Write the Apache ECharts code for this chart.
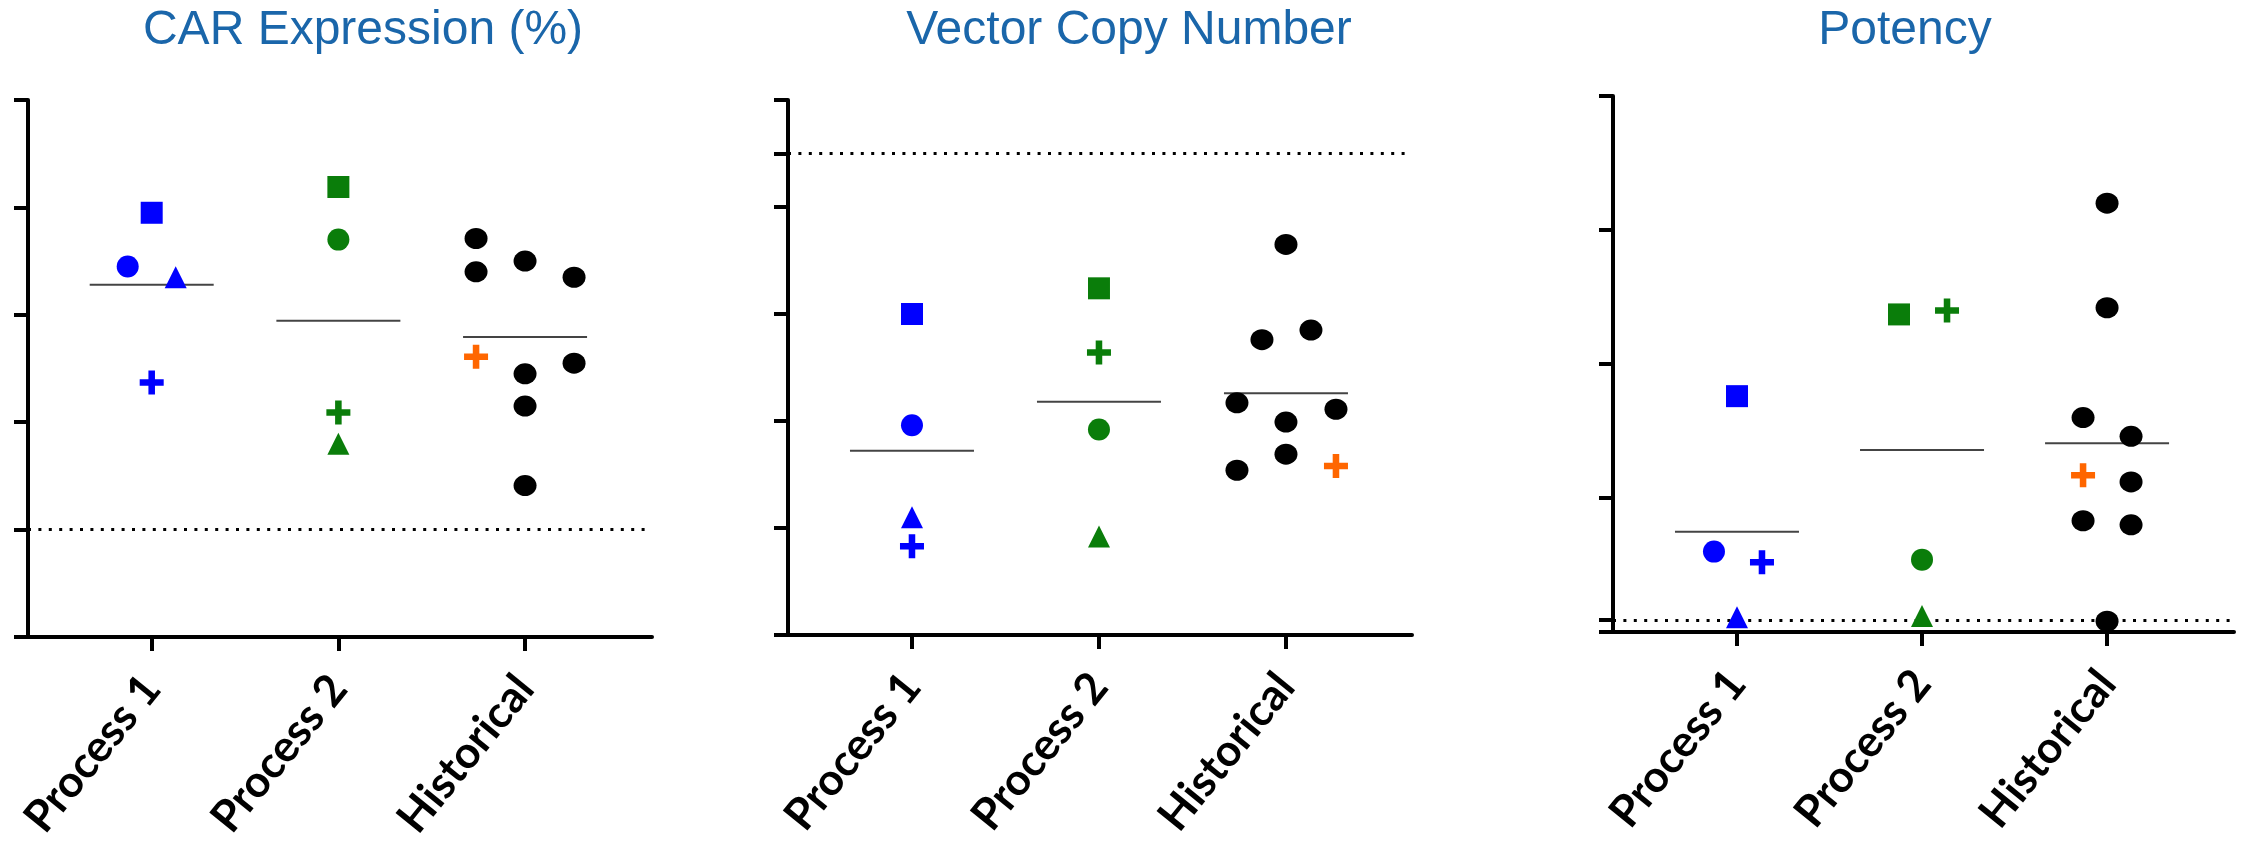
<!DOCTYPE html>
<html>
<head>
<meta charset="utf-8">
<script src="https://cdn.jsdelivr.net/npm/echarts@6/dist/echarts.min.js"></script>
<style>
  html, body { margin: 0; padding: 0; background: #fff; }
  #chart { width: 2244px; height: 850px; }
</style>
</head>
<body>
<div id="chart"></div>
<script>
// ---------------- DATA ----------------
const categories = ['Process 1', 'Process 2', 'Historical'];
const panelTitles = ['CAR Expression (%)', 'Vector Copy Number', 'Potency'];

// donor order for Process 1 / Process 2: square, circle, triangle, plus
const carProcess1 = [39.5, 34.5, 33.5, 23.7];
const carProcess2 = [41.9, 37.0, 18.0, 20.9];
const carHistorical = [37.1, 34.0, 35.0, 33.5, 25.5, 24.5, 21.5, 14.1];
const carHistoricalRef = [26.1];
const carTicks = [0, 10, 20, 30, 40, 50];
const carThreshold = 10;

const vcnProcess1 = [3.00, 1.96, 1.10, 0.83];
const vcnProcess2 = [3.24, 1.92, 0.92, 2.64];
const vcnHistorical = [3.65, 2.76, 2.85, 2.17, 2.11, 1.99, 1.69, 1.54];
const vcnHistoricalRef = [1.58];
const vcnTicks = [0, 1, 2, 3, 4, 4.5, 5];
const vcnThreshold = 4.5;

const potProcess1 = [1.76, 0.60, 0.11, 0.52];
const potProcess2 = [2.37, 0.54, 0.12, 2.40];
const potHistorical = [3.20, 2.42, 1.60, 1.46, 1.12, 0.83, 0.80, 0.08];
const potHistoricalRef = [1.17];
const potTicks = [0, 0.09, 1, 2, 3, 4];
const potThreshold = 0.09;

// ---------------- STYLE / LAYOUT ----------------
const PLUS = 'path://M8,0H14V8H22V14H14V22H8V14H0V8H8Z';
const donorSymbols = ['rect', 'circle', 'triangle', PLUS];
const donorSizes = [22, 22, 22, 24];
const colP1 = '#0000ff', colP2 = '#0a7d0a', colHist = '#000000', colRef = '#ff6600';
const titleColor = '#1a66aa';

const panels = [
  { title: panelTitles[0], p1: carProcess1, p2: carProcess2, hist: carHistorical, ref: carHistoricalRef,
    ticks: carTicks, thr: carThreshold,
    grid: { left: 28, top: 100, width: 624, height: 537 }, xr: [-0.6626, 2.680], titleX: 358,
    j1: [0, -24, 24, 0], j2: [0, 0, 0, 0], jh: [-49, -49, 0, 49, 49, 0, 0, 0], jr: [-49] },
  { title: panelTitles[1], p1: vcnProcess1, p2: vcnProcess2, hist: vcnHistorical, ref: vcnHistoricalRef,
    ticks: vcnTicks, thr: vcnThreshold,
    grid: { left: 788, top: 100, width: 624, height: 535 }, xr: [-0.663, 2.674], titleX: 1124,
    j1: [0, 0, 0, 0], j2: [0, 0, 0, 0], jh: [0, -24, 25, -49, 50, 0, 0, -49], jr: [50] },
  { title: panelTitles[2], p1: potProcess1, p2: potProcess2, hist: potHistorical, ref: potHistoricalRef,
    ticks: potTicks, thr: potThreshold,
    grid: { left: 1613, top: 96, width: 621, height: 536 }, xr: [-0.670, 2.686], titleX: 1900,
    j1: [0, -23, 0, 25], j2: [-23, 0, 0, 25], jh: [0, 0, -24, 24, 24, -24, 24, 0], jr: [-24] }
];

const mean = a => a.reduce((s, v) => s + v, 0) / a.length;

const option = {
  backgroundColor: '#ffffff',
  animation: false,
  title: [], grid: [], xAxis: [], yAxis: [], series: []
};

panels.forEach((p, i) => {
  option.title.push({
    text: p.title, left: p.titleX, top: 2, textAlign: 'center',
    textStyle: { color: titleColor, fontSize: 48, fontWeight: 'normal', fontFamily: 'Liberation Sans, Arial, sans-serif' }
  });
  option.grid.push(Object.assign({ containLabel: false }, p.grid));
  option.xAxis.push({
    type: 'value', gridIndex: i, min: p.xr[0], max: p.xr[1],
    splitLine: { show: false },
    axisLine: { show: true, onZero: false, lineStyle: { color: '#000', width: 4 } },
    axisTick: { show: true, customValues: [0, 1, 2], length: 14, lineStyle: { color: '#000', width: 4 } },
    axisLabel: {
      show: true, customValues: [0, 1, 2], rotate: 51, margin: 44,
      formatter: v => categories[Math.round(v)],
      color: '#000', fontSize: 44, fontWeight: 'bold', fontFamily: 'Lato, "Open Sans", sans-serif'
    }
  });
  option.yAxis.push({
    type: 'value', gridIndex: i, min: p.ticks[0], max: p.ticks[p.ticks.length - 1],
    splitLine: { show: false },
    axisLine: { show: true, onZero: false, lineStyle: { color: '#000', width: 4 } },
    axisTick: { show: true, customValues: p.ticks, length: 14, lineStyle: { color: '#000', width: 4 } },
    axisLabel: { show: false }
  });

  // mean lines + threshold
  const groups = [p.p1, p.p2, p.hist.concat(p.ref)];
  option.series.push({
    type: 'scatter', xAxisIndex: i, yAxisIndex: i, z: 2, silent: true,
    symbol: 'rect', symbolSize: [124, 2], itemStyle: { color: '#444', opacity: 1 },
    data: groups.map((g, k) => [k, mean(g)]),
    markLine: {
      silent: true, symbol: ['none', 'none'], label: { show: false },
      lineStyle: { color: '#000', width: 3, type: [3, 7.4], opacity: 1 },
      data: [{ yAxis: p.thr }]
    }
  });

  const mk = (vals, k, jit, color, symFn, sizeFn) => vals.map((v, n) => ({
    value: [k, v], symbol: symFn(n), symbolSize: sizeFn(n), symbolOffset: [jit[n], 0],
    itemStyle: { color: color, opacity: 1 }
  }));
  option.series.push({
    type: 'scatter', xAxisIndex: i, yAxisIndex: i, z: 5, silent: true,
    itemStyle: { opacity: 1 },
    data: [].concat(
      mk(p.p1, 0, p.j1, colP1, n => donorSymbols[n], n => donorSizes[n]),
      mk(p.p2, 1, p.j2, colP2, n => donorSymbols[n], n => donorSizes[n]),
      mk(p.hist, 2, p.jh, colHist, () => 'circle', () => [23, 21]),
      mk(p.ref, 2, p.jr, colRef, () => PLUS, () => 24)
    )
  });
});

const chart = echarts.init(document.getElementById('chart'), null, { renderer: 'canvas' });
chart.setOption(option);
</script>
</body>
</html>
